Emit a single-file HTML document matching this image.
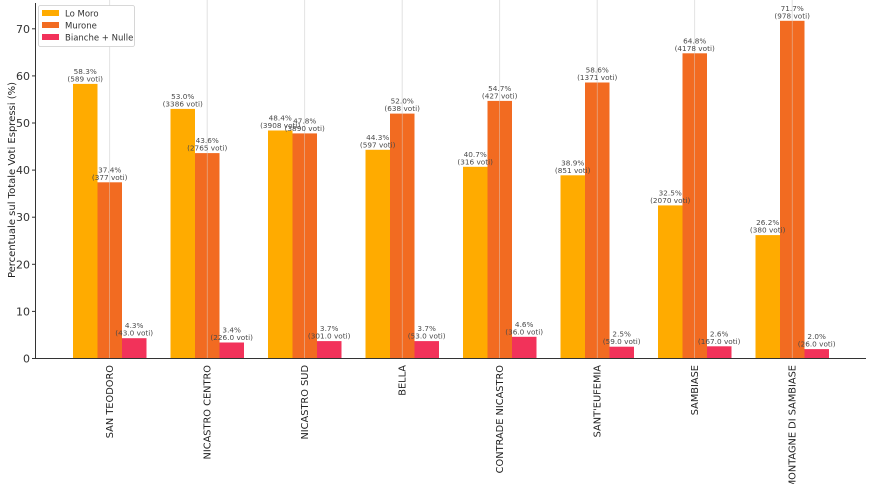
<!DOCTYPE html>
<html><head><meta charset="utf-8"><style>
html,body{margin:0;padding:0;background:#fff;}
svg{display:block;font-family:"DejaVu Sans","Liberation Sans",sans-serif;}
.v{font-size:7.3px;fill:#4a4a4a;text-anchor:middle;}
.t{font-size:11px;fill:#333;text-anchor:end;}
.c{font-size:9.8px;fill:#222;text-anchor:end;}
.lo{fill:#ffab00}.mu{fill:#f26b21}.bn{fill:#f2325a}
</style></head><body>
<svg width="871" height="484" viewBox="0 0 871 484">
<g stroke="#dddddd" stroke-width="0.8">
<line x1="109.7" y1="0" x2="109.7" y2="358"/><line x1="207.2" y1="0" x2="207.2" y2="358"/><line x1="304.7" y1="0" x2="304.7" y2="358"/><line x1="402.2" y1="0" x2="402.2" y2="358"/><line x1="499.7" y1="0" x2="499.7" y2="358"/><line x1="597.2" y1="0" x2="597.2" y2="358"/><line x1="694.7" y1="0" x2="694.7" y2="358"/><line x1="792.2" y1="0" x2="792.2" y2="358"/>
</g>
<g class="lo">
<rect x="73" y="83.9" width="24.5" height="274.6"/><rect x="170.5" y="108.9" width="24.5" height="249.6"/><rect x="268" y="130.5" width="24.5" height="228"/><rect x="365.5" y="149.8" width="24.5" height="208.7"/><rect x="463" y="166.8" width="24.5" height="191.7"/><rect x="560.5" y="175.3" width="24.5" height="183.2"/><rect x="658" y="205.4" width="24.5" height="153.1"/><rect x="755.5" y="235.1" width="24.5" height="123.4"/>
</g>
<g class="mu">
<rect x="97.5" y="182.3" width="24.5" height="176.2"/><rect x="195" y="153.1" width="24.5" height="205.4"/><rect x="292.5" y="133.4" width="24.5" height="225.1"/><rect x="390" y="113.6" width="24.5" height="244.9"/><rect x="487.5" y="100.9" width="24.5" height="257.6"/><rect x="585" y="82.5" width="24.5" height="276"/><rect x="682.5" y="53.3" width="24.5" height="305.2"/><rect x="780" y="20.8" width="24.5" height="337.7"/>
</g>
<g class="bn">
<rect x="122" y="338.2" width="24.5" height="20.3"/><rect x="219.5" y="342.5" width="24.5" height="16"/><rect x="317" y="341.1" width="24.5" height="17.4"/><rect x="414.5" y="341.1" width="24.5" height="17.4"/><rect x="512" y="336.8" width="24.5" height="21.7"/><rect x="609.5" y="346.7" width="24.5" height="11.8"/><rect x="707" y="346.3" width="24.5" height="12.2"/><rect x="804.5" y="349.1" width="24.5" height="9.4"/>
</g>
<g stroke="#dddddd" stroke-width="0.6" opacity="0.7">
<line x1="109.7" y1="0" x2="109.7" y2="358"/><line x1="207.2" y1="0" x2="207.2" y2="358"/><line x1="304.7" y1="0" x2="304.7" y2="358"/><line x1="402.2" y1="0" x2="402.2" y2="358"/><line x1="499.7" y1="0" x2="499.7" y2="358"/><line x1="597.2" y1="0" x2="597.2" y2="358"/><line x1="694.7" y1="0" x2="694.7" y2="358"/><line x1="792.2" y1="0" x2="792.2" y2="358"/>
</g>
<g class="v">
<text x="85.2" y="73.9">58.3%</text><text x="85.2" y="81.4">(589 voti)</text>
<text x="182.7" y="98.9">53.0%</text><text x="182.7" y="106.4">(3386 voti)</text>
<text x="280.2" y="120.5">48.4%</text><text x="280.2" y="128">(3908 voti)</text>
<text x="377.7" y="139.8">44.3%</text><text x="377.7" y="147.3">(597 voti)</text>
<text x="475.2" y="156.8">40.7%</text><text x="475.2" y="164.3">(316 voti)</text>
<text x="572.7" y="165.3">38.9%</text><text x="572.7" y="172.8">(851 voti)</text>
<text x="670.2" y="195.4">32.5%</text><text x="670.2" y="202.9">(2070 voti)</text>
<text x="767.7" y="225.1">26.2%</text><text x="767.7" y="232.6">(380 voti)</text>
<text x="109.7" y="172.3">37.4%</text><text x="109.7" y="179.8">(377 voti)</text>
<text x="207.2" y="143.1">43.6%</text><text x="207.2" y="150.6">(2765 voti)</text>
<text x="304.7" y="123.4">47.8%</text><text x="304.7" y="130.9">(3890 voti)</text>
<text x="402.2" y="103.6">52.0%</text><text x="402.2" y="111.1">(638 voti)</text>
<text x="499.7" y="90.9">54.7%</text><text x="499.7" y="98.4">(427 voti)</text>
<text x="597.2" y="72.5">58.6%</text><text x="597.2" y="80">(1371 voti)</text>
<text x="694.7" y="43.3">64.8%</text><text x="694.7" y="50.8">(4178 voti)</text>
<text x="792.2" y="10.8">71.7%</text><text x="792.2" y="18.3">(978 voti)</text>
<text x="134.2" y="328.2">4.3%</text><text x="134.2" y="335.7">(43.0 voti)</text>
<text x="231.7" y="332.5">3.4%</text><text x="231.7" y="340">(226.0 voti)</text>
<text x="329.2" y="331.1">3.7%</text><text x="329.2" y="338.6">(301.0 voti)</text>
<text x="426.7" y="331.1">3.7%</text><text x="426.7" y="338.6">(53.0 voti)</text>
<text x="524.2" y="326.8">4.6%</text><text x="524.2" y="334.3">(36.0 voti)</text>
<text x="621.7" y="336.7">2.5%</text><text x="621.7" y="344.2">(59.0 voti)</text>
<text x="719.2" y="336.3">2.6%</text><text x="719.2" y="343.8">(167.0 voti)</text>
<text x="816.7" y="339.1">2.0%</text><text x="816.7" y="346.6">(26.0 voti)</text>
</g>
<line x1="35.5" y1="3" x2="35.5" y2="358.5" stroke="#333" stroke-width="1"/>
<line x1="35.5" y1="358.5" x2="866" y2="358.5" stroke="#333" stroke-width="1"/>
<g stroke="#333"><line x1="32" y1="358.5" x2="35.5" y2="358.5"/><line x1="32" y1="311.4" x2="35.5" y2="311.4"/><line x1="32" y1="264.3" x2="35.5" y2="264.3"/><line x1="32" y1="217.2" x2="35.5" y2="217.2"/><line x1="32" y1="170.1" x2="35.5" y2="170.1"/><line x1="32" y1="123" x2="35.5" y2="123"/><line x1="32" y1="75.9" x2="35.5" y2="75.9"/><line x1="32" y1="28.8" x2="35.5" y2="28.8"/></g>
<g class="t">
<text x="30" y="362.5">0</text><text x="30" y="315.4">10</text><text x="30" y="268.3">20</text><text x="30" y="221.2">30</text><text x="30" y="174.1">40</text><text x="30" y="127">50</text><text x="30" y="79.9">60</text><text x="30" y="32.8">70</text>
</g>
<text transform="translate(15,180) rotate(-90)" style="font-size:10px;fill:#222;text-anchor:middle">Percentuale sul Totale Voti Espressi (%)</text>
<g class="c">
<text transform="translate(113.2,365) rotate(-90)">SAN TEODORO</text>
<text transform="translate(210.7,365) rotate(-90)">NICASTRO CENTRO</text>
<text transform="translate(308.2,365) rotate(-90)">NICASTRO SUD</text>
<text transform="translate(405.7,365) rotate(-90)">BELLA</text>
<text transform="translate(503.2,365) rotate(-90)">CONTRADE NICASTRO</text>
<text transform="translate(600.7,365) rotate(-90)">SANT'EUFEMIA</text>
<text transform="translate(698.2,365) rotate(-90)">SAMBIASE</text>
<text transform="translate(795.7,365) rotate(-90)">MONTAGNE DI SAMBIASE</text>
</g>
<rect x="38.5" y="5.5" width="96" height="41" fill="#fff" stroke="#ccc" stroke-width="0.8" rx="2"/>
<rect x="42" y="10" width="17" height="6" class="lo"/><rect x="42" y="22" width="17" height="6" class="mu"/><rect x="42" y="34" width="17" height="6" class="bn"/>
<g style="font-size:8.5px;fill:#333"><text x="65" y="16.5">Lo Moro</text><text x="65" y="28.5">Murone</text><text x="65" y="40.5">Bianche + Nulle</text></g>
</svg>
</body></html>
